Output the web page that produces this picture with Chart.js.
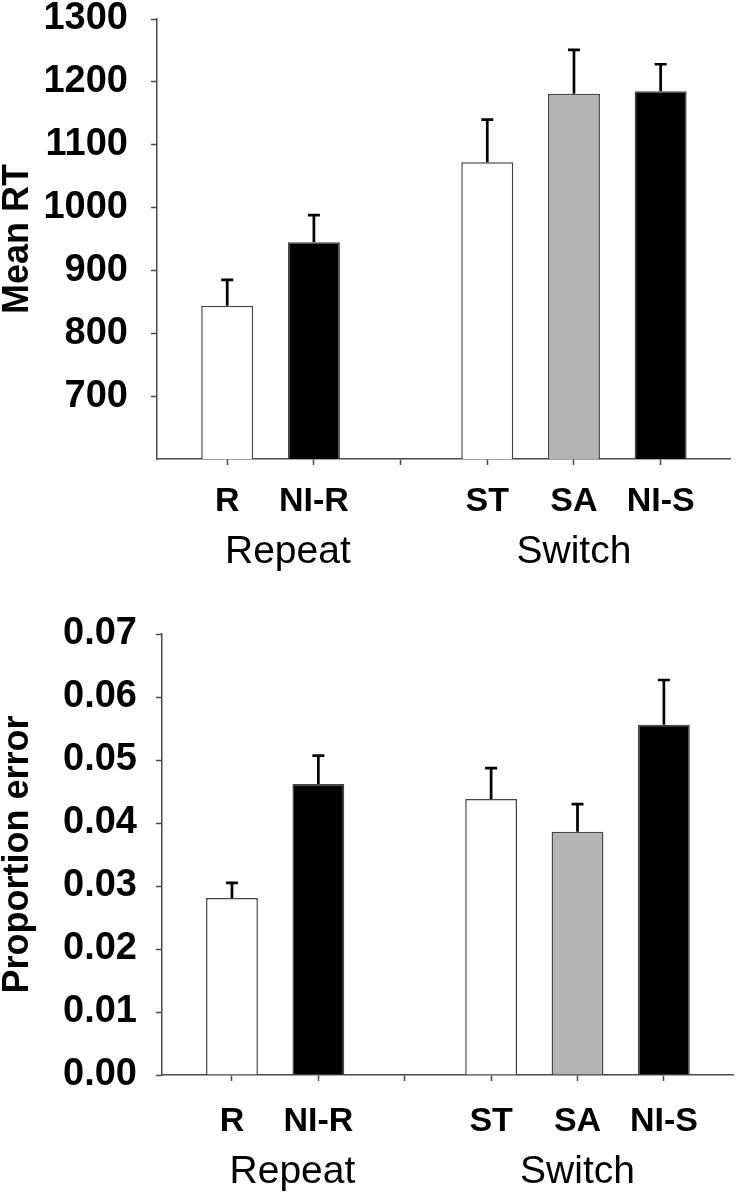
<!DOCTYPE html>
<html>
<head>
<meta charset="utf-8">
<script src="https://cdn.jsdelivr.net/npm/chart.js@4"></script>
<style>
  html, body { margin: 0; padding: 0; background: #fff; }
  .panel { position: relative; width: 738px; }
  #rt-wrap { height: 590px; }
  #err-wrap { height: 609px; }
</style>
</head>
<body>
<div class="panel" id="rt-wrap"><canvas id="rt-chart"></canvas></div>
<div class="panel" id="err-wrap"><canvas id="err-chart"></canvas></div>
<script>
// Conditions (blank slot separates the Repeat and Switch groups)
const conditions = ['R', 'NI-R', '', 'ST', 'SA', 'NI-S'];
const groupLabels = ['Repeat', 'Switch'];
const groupTicks = [1.7, 5.0];

// Mean RT (ms) and upper error
const rtMeans = [844, 945, null, 1072, 1181, 1185];
const rtErrors = [41, 43, null, 68, 70, 43];
const rtTicks = [700, 800, 900, 1000, 1100, 1200, 1300];

// Proportion error and upper error
const errMeans = [0.0281, 0.0462, null, 0.0438, 0.0386, 0.0556];
const errErrors = [0.0024, 0.0045, null, 0.0049, 0.0044, 0.0071];
const errTicks = [0, 0.01, 0.02, 0.03, 0.04, 0.05, 0.06, 0.07];

const barFills = ['#ffffff', '#000000', null, '#ffffff', '#b3b3b3', '#000000'];

const FONT = "'Liberation Sans', Arial, sans-serif";
const AXIS = '#4a4a4a';

// Upper-only error bars with caps
const errorBarPlugin = {
    id: 'errorBars',
    afterDatasetsDraw(chart) {
        const ctx = chart.ctx;
        const yScale = chart.scales.y;
        const meta = chart.getDatasetMeta(0);
        const ds = chart.data.datasets[0];
        ctx.save();
        ctx.strokeStyle = '#000';
        ctx.lineWidth = 2.7;
        meta.data.forEach((bar, i) => {
            const top = yScale.getPixelForValue(ds.data[i].y + ds.errors[i]);
            ctx.beginPath();
            ctx.moveTo(bar.x, bar.y);
            ctx.lineTo(bar.x, top);
            ctx.moveTo(bar.x - 6, top);
            ctx.lineTo(bar.x + 6, top);
            ctx.stroke();
        });
        ctx.restore();
    }
};

function buildChart(canvasId, means, errors, ticks, opts) {
    const points = [];
    const fills = [];
    const errs = [];
    means.forEach((v, i) => {
        if (v === null) return;
        points.push({ x: i + 1, y: v });
        fills.push(barFills[i]);
        errs.push(errors[i]);
    });

    return new Chart(document.getElementById(canvasId), {
        type: 'bar',
        data: {
            datasets: [{
                data: points,
                errors: errs,
                backgroundColor: fills,
                borderColor: '#444',
                borderWidth: 1.5,
                borderSkipped: 'bottom',
                barPercentage: 0.6,
                categoryPercentage: 1.0
            }]
        },
        options: {
            responsive: true,
            maintainAspectRatio: false,
            animation: false,
            layout: { padding: { top: opts.padTop, right: opts.padRight, left: 0, bottom: 0 } },
            plugins: { legend: { display: false }, tooltip: { enabled: false } },
            scales: {
                x: {
                    type: 'linear',
                    position: 'bottom',
                    min: 0.19,
                    max: 6.8,
                    offset: false,
                    afterBuildTicks: s => { s.ticks = conditions.map((_, i) => ({ value: i + 1 })); },
                    afterFit: s => { s.height = 70; s.paddingLeft = 0; s.paddingRight = 0; },
                    grid: { offset: false, drawOnChartArea: false, tickLength: 6, tickWidth: 1.5, tickColor: AXIS },
                    border: { color: AXIS, width: 1.5 },
                    ticks: {
                        autoSkip: false,
                        maxRotation: 0,
                        padding: opts.xPad,
                        color: '#000',
                        font: { family: FONT, size: 34, weight: 'bold', lineHeight: 1 },
                        callback: v => conditions[Math.round(v) - 1]
                    }
                },
                x2: {
                    type: 'linear',
                    position: 'bottom',
                    min: 0.19,
                    max: 6.8,
                    offset: false,
                    afterBuildTicks: s => { s.ticks = groupTicks.map(v => ({ value: v })); },
                    afterFit: s => { s.height = opts.groupHeight; s.paddingLeft = 0; s.paddingRight = 0; },
                    grid: { display: false, drawTicks: false, offset: false },
                    border: { display: false },
                    ticks: {
                        autoSkip: false,
                        maxRotation: 0,
                        padding: opts.groupPad,
                        color: '#000',
                        font: { family: FONT, size: 39, weight: 'normal', lineHeight: 1 },
                        callback: v => groupLabels[groupTicks.indexOf(v)]
                    }
                },
                y: {
                    min: opts.yMin,
                    max: opts.yMax,
                    afterBuildTicks: s => { s.ticks = ticks.map(v => ({ value: v })); },
                    afterFit: s => { s.width = opts.yWidth; s.paddingTop = 0; s.paddingBottom = 0; },
                    grid: { drawOnChartArea: false, tickLength: 6, tickWidth: 1.5, tickColor: AXIS },
                    border: { color: AXIS, width: 1.5 },
                    title: {
                        display: true,
                        text: opts.title,
                        color: '#000',
                        padding: 0,
                        font: { family: FONT, size: 36, weight: 'bold', lineHeight: 1 }
                    },
                    ticks: {
                        padding: opts.yPad,
                        color: '#000',
                        font: { family: FONT, size: 38, weight: 'bold', lineHeight: 1 },
                        callback: opts.fmt
                    }
                }
            }
        },
        plugins: [errorBarPlugin]
    });
}

buildChart('rt-chart', rtMeans, rtErrors, rtTicks, {
    title: 'Mean RT', yMin: 600, yMax: 1300, yWidth: 157, yPad: 23,
    padTop: 19, padRight: 8, xPad: 20, groupPad: 4, groupHeight: 61,
    fmt: v => String(v)
});

buildChart('err-chart', errMeans, errErrors, errTicks, {
    title: 'Proportion error', yMin: 0, yMax: 0.07, yWidth: 162, yPad: 19,
    padTop: 44, padRight: 5, xPad: 24, groupPad: 8, groupHeight: 54,
    fmt: v => v.toFixed(2)
});
</script>
</body>
</html>
